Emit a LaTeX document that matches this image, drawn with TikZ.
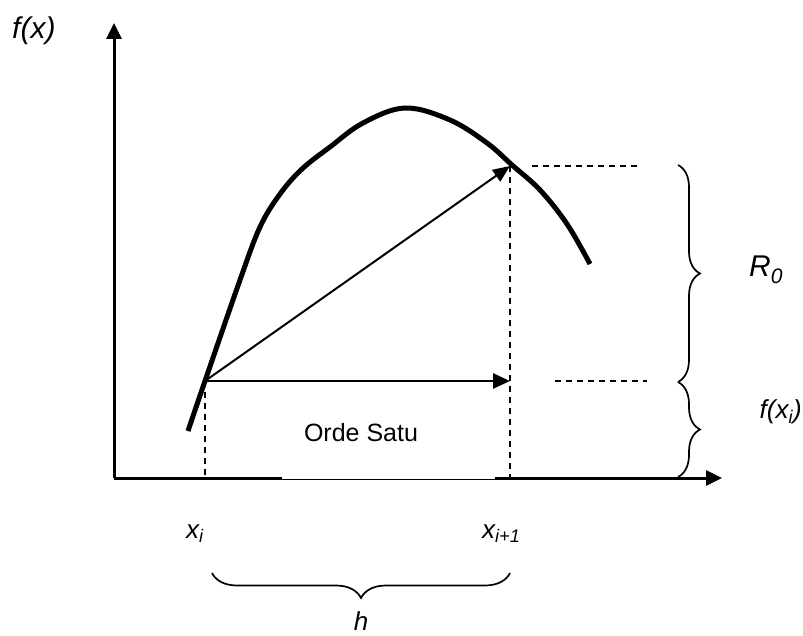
\documentclass[tikz,border=0pt]{standalone}
\usepackage{fontspec}
\setmainfont{Liberation Sans}
\usetikzlibrary{arrows.meta,decorations.pathreplacing}
\begin{document}
\begin{tikzpicture}[x=1pt,y=-1pt,
  axisline/.style={line width=3pt},
  bigtip/.style={-{Triangle[length=16pt,width=15pt]}},
  curveline/.style={line width=5pt},
  guide/.style={line width=1.4pt,dash pattern=on 6pt off 5pt},
  bracestyle/.style={line width=1.7pt,decorate,decoration={brace,amplitude=22pt,aspect=0.5}},
  biglbl/.style={inner sep=0pt,font=\fontsize{30}{34}\selectfont\itshape},
  midlbl/.style={inner sep=0pt,font=\fontsize{26}{30}\selectfont\itshape},
  txt/.style={inner sep=0pt,font=\fontsize{25}{29}\selectfont}
]
\useasboundingbox (0,0) rectangle (803,636);
% key points
\coordinate (O) at (114,478);
\coordinate (ytip) at (114,23);
\coordinate (xtip) at (722,478);
\coordinate (g1) at (282,478);
\coordinate (g2) at (495,478);
\coordinate (t1) at (282,479.3);
\coordinate (t2) at (495,479.3);
\coordinate (P) at (205,381);
\coordinate (Q) at (510,166);
\coordinate (R) at (510,381);
\coordinate (Pb) at (205,478);
\coordinate (Qb) at (510,478);
\coordinate (d1a) at (532,166);
\coordinate (d1b) at (638,166);
\coordinate (d2a) at (555,381);
\coordinate (d2b) at (647,381);
\coordinate (b1) at (678,165);
\coordinate (b2) at (678,382);
\coordinate (b3) at (678,477);
\coordinate (h1) at (510,573);
\coordinate (h2) at (212,573);
% axes
\draw[axisline,bigtip] (O) -- (ytip);
\draw[axisline] (O) -- (g1);
\draw[line width=0.8pt] (t1) -- (t2);
\draw[axisline,bigtip] (g2) -- (xtip);
% curve
\draw[curveline] plot[smooth,tension=0.6] coordinates {(188,431) (205,381) (240,280) (260,227) (280,194) (302,169) (330,147) (363,123) (405,108) (450,120) (487,143) (512,165) (540,190) (567,224) (590,264)};
% guides
\draw[guide] (P) -- (Pb);
\draw[guide] (Q) -- (Qb);
\draw[guide] (d1a) -- (d1b);
\draw[guide] (d2a) -- (d2b);
% arrows
\draw[line width=2.8pt,-{Triangle[length=17pt,width=15pt]}] (P) -- (R);
\draw[line width=2pt,-{Triangle[length=17pt,width=14pt]}] (P) -- (Q);
% braces
\draw[bracestyle] (b1) -- (b2);
\draw[bracestyle] (b2) -- (b3);
\draw[bracestyle,decoration={brace,amplitude=25pt}] (h1) -- (h2);
% labels
\node[biglbl,anchor=base west] (fx) at (12,39) {f(x)};
\node[biglbl,anchor=base west] (R0) at (749,277) {R\textsubscript{0}};
\node[midlbl,anchor=east] (fxi) at (802,412) {f(x\textsubscript{i})};
\node[midlbl,anchor=base west] (xi) at (186,538) {x\textsubscript{i}};
\node[midlbl,anchor=base west] (xi1) at (482,538) {x\textsubscript{i+1}};
\node[midlbl] (h) at (361,621) {h};
\node[txt] (os) at (361,433) {Orde Satu};
\end{tikzpicture}
\end{document}
